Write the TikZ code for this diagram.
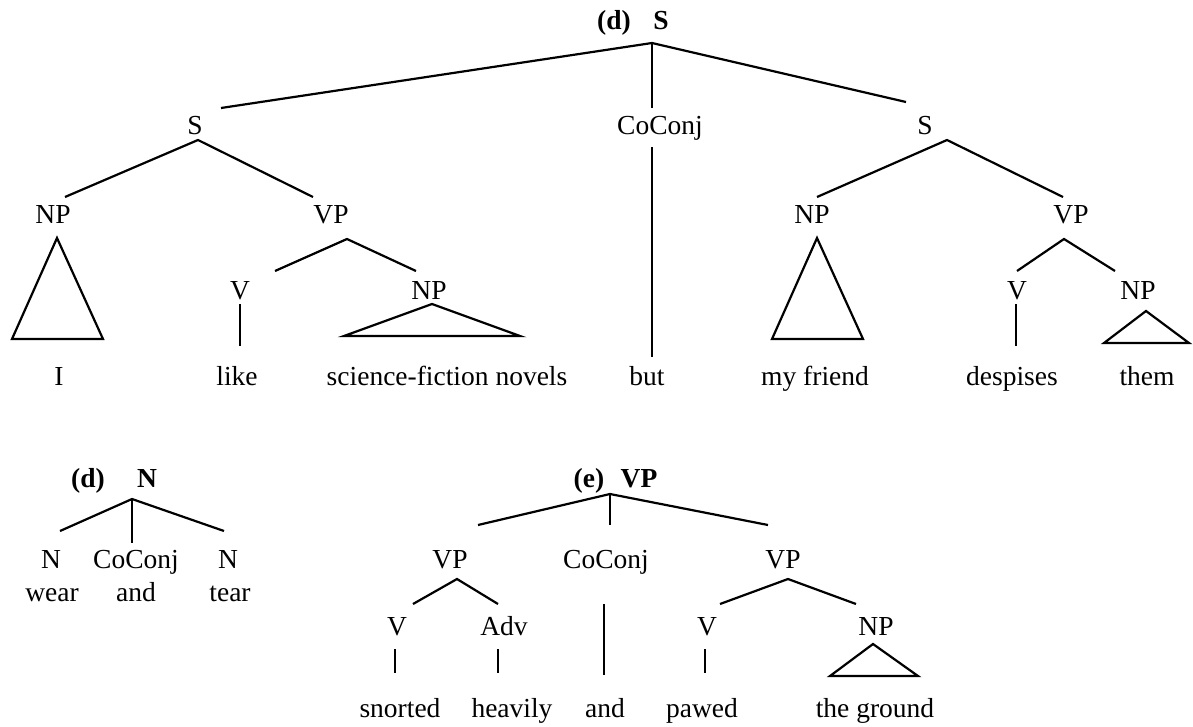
\documentclass[tikz,border=0pt]{standalone}
\usepackage{fontspec}
\setmainfont{Liberation Serif}
\begin{document}
\begin{tikzpicture}[x=1pt,y=-1pt,
  every node/.style={font=\fontsize{27.5}{33}\selectfont, inner sep=0pt, anchor=base},
  hd/.style={font=\fontsize{27.5}{33}\selectfont\bfseries},
  branch/.style={line width=2.2pt},
  tri/.style={line width=2.2pt, line join=miter}]
\useasboundingbox (0,0) rectangle (1193,726);

% ---------- tree (d): S CoConj S ----------
\node[hd] (dlab) at (614,29) {(d)};
\node[hd] (root) at (661,29) {S};
\coordinate (r0) at (652,43);
\coordinate (r0l) at (221,108);
\coordinate (r0m) at (652,108);
\coordinate (r0r) at (906,102);
\draw[branch] (r0l) -- (r0) -- (r0r);
\draw[branch] (r0) -- (r0m);

% left clause
\node (sL) at (195,134) {S};
\coordinate (sLa) at (198,140);
\coordinate (sLl) at (65,197);
\coordinate (sLr) at (313,197);
\draw[branch] (sLl) -- (sLa) -- (sLr);
\node (npL) at (53,223) {NP};
\node (vpL) at (331,223) {VP};
\coordinate (npLa) at (57,238);
\coordinate (npLb1) at (12,339);
\coordinate (npLb2) at (103,339);
\draw[tri] (npLa) -- (npLb1) -- (npLb2) -- cycle;
\coordinate (vpLa) at (347,239);
\coordinate (vpLl) at (275,271);
\coordinate (vpLr) at (416,271);
\draw[branch] (vpLl) -- (vpLa) -- (vpLr);
\node (vL) at (240,299) {V};
\node (npL2) at (429,299) {NP};
\coordinate (vLt) at (240,304);
\coordinate (vLb) at (240,346);
\draw[branch] (vLt) -- (vLb);
\coordinate (npL2a) at (432,304);
\coordinate (npL2b1) at (344,336);
\coordinate (npL2b2) at (520,336);
\draw[tri] (npL2a) -- (npL2b1) -- (npL2b2) -- cycle;
\node (wI) at (59,385) {I};
\node (wlike) at (237,385) {like};
\node (wsf) at (447,385) {science-fiction novels};

% conjunction
\node (cc) at (660,134) {CoConj};
\coordinate (cct) at (652,147);
\coordinate (ccb) at (652,357);
\draw[branch] (cct) -- (ccb);
\node (wbut) at (647,385) {but};

% right clause
\node (sR) at (925,134) {S};
\coordinate (sRa) at (947,140);
\coordinate (sRl) at (817,197);
\coordinate (sRr) at (1063,197);
\draw[branch] (sRl) -- (sRa) -- (sRr);
\node (npR) at (812,223) {NP};
\node (vpR) at (1071,223) {VP};
\coordinate (npRa) at (817,238);
\coordinate (npRb1) at (772,339);
\coordinate (npRb2) at (863,339);
\draw[tri] (npRa) -- (npRb1) -- (npRb2) -- cycle;
\coordinate (vpRa) at (1064,239);
\coordinate (vpRl) at (1017,271);
\coordinate (vpRr) at (1115,271);
\draw[branch] (vpRl) -- (vpRa) -- (vpRr);
\node (vR) at (1017,299) {V};
\node (npR2) at (1138,299) {NP};
\coordinate (vRt) at (1016,304);
\coordinate (vRb) at (1016,346);
\draw[branch] (vRt) -- (vRb);
\coordinate (npR2a) at (1146,311);
\coordinate (npR2b1) at (1104,343);
\coordinate (npR2b2) at (1189,343);
\draw[tri] (npR2a) -- (npR2b1) -- (npR2b2) -- cycle;
\node (wfriend) at (815,385) {my friend};
\node (wdesp) at (1012,385) {despises};
\node (wthem) at (1147,385) {them};

% ---------- tree (d): N CoConj N ----------
\node[hd] (d2lab) at (88,487) {(d)};
\node[hd] (nroot) at (147,487) {N};
\coordinate (na) at (132,499);
\coordinate (nal) at (60,531);
\coordinate (nam) at (132,543);
\coordinate (nar) at (224,531);
\draw[branch] (nal) -- (na) -- (nar);
\draw[branch] (na) -- (nam);
\node (n1) at (51,568) {N};
\node (ncc) at (136,568) {CoConj};
\node (n2) at (228,568) {N};
\node (wwear) at (52,601) {wear};
\node (wand1) at (136,601) {and};
\node (wtear) at (230,601) {tear};

% ---------- tree (e): VP CoConj VP ----------
\node[hd] (elab) at (589,487) {(e)};
\node[hd] (eroot) at (639,487) {VP};
\coordinate (ea) at (610,494);
\coordinate (eal) at (478,525);
\coordinate (eam) at (610,525);
\coordinate (ear) at (768,525);
\draw[branch] (eal) -- (ea) -- (ear);
\draw[branch] (ea) -- (eam);

\node (evp1) at (450,568) {VP};
\coordinate (evp1a) at (457,579);
\coordinate (evp1l) at (413,604);
\coordinate (evp1r) at (498,604);
\draw[branch] (evp1l) -- (evp1a) -- (evp1r);
\node (ev1) at (397,635) {V};
\node (eadv) at (504,635) {Adv};
\coordinate (ev1t) at (395,649);
\coordinate (ev1b) at (395,673);
\draw[branch] (ev1t) -- (ev1b);
\coordinate (eadvt) at (498,649);
\coordinate (eadvb) at (498,673);
\draw[branch] (eadvt) -- (eadvb);

\node (ecc) at (606,568) {CoConj};
\coordinate (ecct) at (604,604);
\coordinate (eccb) at (604,675);
\draw[branch] (ecct) -- (eccb);

\node (evp2) at (783,568) {VP};
\coordinate (evp2a) at (788,579);
\coordinate (evp2l) at (720,604);
\coordinate (evp2r) at (856,604);
\draw[branch] (evp2l) -- (evp2a) -- (evp2r);
\node (ev2) at (707,635) {V};
\node (enp) at (876,635) {NP};
\coordinate (ev2t) at (705,649);
\coordinate (ev2b) at (705,673);
\draw[branch] (ev2t) -- (ev2b);
\coordinate (enpa) at (873,644);
\coordinate (enpb1) at (830,676);
\coordinate (enpb2) at (918,676);
\draw[tri] (enpa) -- (enpb1) -- (enpb2) -- cycle;

\node (wsnort) at (400,717) {snorted};
\node (wheav) at (512,717) {heavily};
\node (wand2) at (605,717) {and};
\node (wpawed) at (702,717) {pawed};
\node (wground) at (875,717) {the ground};
\end{tikzpicture}
\end{document}
